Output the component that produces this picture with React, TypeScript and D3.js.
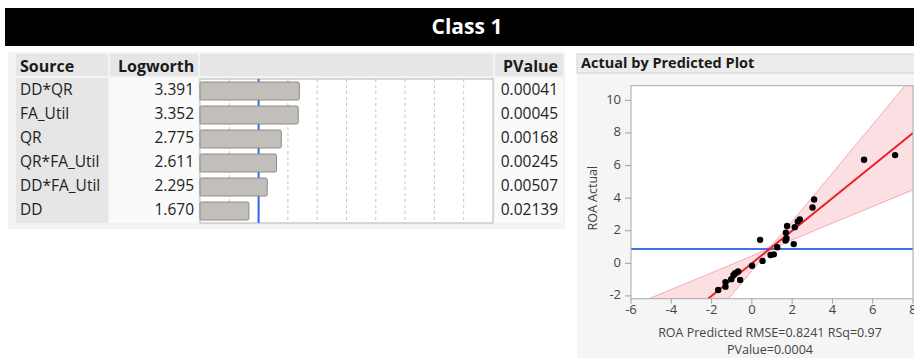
import React from "react";
import * as d3 from "d3";

// Effect summary table
const sources = ["DD*QR", "FA_Util", "QR", "QR*FA_Util", "DD*FA_Util", "DD"];
const logworths = [3.391, 3.352, 2.775, 2.611, 2.295, 1.67];
const pValues = ["0.00041", "0.00045", "0.00168", "0.00245", "0.00507", "0.02139"];
const logworthRef = 2; // -log10(0.01)
const logworthGrid = [1, 2, 3, 4, 5, 6, 7, 8, 9];

// Actual by predicted scatter
const predicted = [
  -1.67, -1.31, -1.31, -1.02, -0.91, -0.83, -0.68, -0.58, 0.01, 0.53, 0.41, 0.93, 1.09, 1.26, 1.67,
  1.72, 1.69, 1.75, 2.08, 2.13, 2.28, 2.38, 3.01, 3.09, 5.57, 7.11,
];
const actual = [
  -1.64, -1.43, -1.15, -0.97, -0.72, -0.6, -0.5, -1.02, -0.15, 0.15, 1.44, 0.51, 0.55, 0.99, 1.4,
  1.52, 1.88, 2.29, 1.18, 2.22, 2.56, 2.7, 3.43, 3.92, 6.36, 6.64,
];
const xTicks = [-6, -4, -2, 0, 2, 4, 6, 8];
const yTicks = [-2, 0, 2, 4, 6, 8, 10];
const meanActual = 0.88;
const rmse = "0.8241";
const rsq = "0.97";
const modelP = "0.0004";
// confidence curves around the fit line: half-width = sqrt(h0^2 + (k * (x - mean))^2)
const bandHalfAtMean = 0.15;
const bandSpread = 0.49;

const FONT = "'Open Sans', 'Noto Sans', sans-serif";

export default function App() {
  // table geometry
  const tX = { src: 16, srcW: 92, lw: 110, lwW: 88, bar: 200, barW: 293, pv: 495, pvW: 68 };
  const headY = 54;
  const headH = 22;
  const rowTop = 79;
  const rowH = 24;
  const barScale = d3.scaleLinear().domain([0, 10]).range([tX.bar, tX.bar + tX.barW]);
  const rowsBottom = rowTop + rowH * sources.length;

  // plot geometry
  const pL = 631;
  const pR = 913;
  const pT = 85.7;
  const pB = 298.7;
  const x = d3.scaleLinear().domain([-6, 8]).range([pL, pR]);
  const y = d3.scaleLinear().domain([-2.17, 10.9]).range([pB, pT]);

  const bandXs = d3.range(-6, 8.001, 0.05);
  const half = (v: number) => Math.sqrt(bandHalfAtMean ** 2 + (bandSpread * (v - meanActual)) ** 2);
  const bandArea = d3
    .area<number>()
    .x((v) => x(v))
    .y0((v) => y(v - half(v)))
    .y1((v) => y(v + half(v)));
  const upper = d3.line<number>().x((v) => x(v)).y((v) => y(v + half(v)));
  const lower = d3.line<number>().x((v) => x(v)).y((v) => y(v - half(v)));
  const fitLine = d3.line<number>().x((v) => x(v)).y((v) => y(v));

  return (
    <svg
      width={914}
      height={358}
      style={{ position: "absolute", left: 0, top: 0, background: "#ffffff" }}
      fontFamily={FONT}
    >
      <defs>
        <clipPath id="plotClip">
          <rect x={pL} y={pT} width={pR - pL} height={pB - pT} />
        </clipPath>
      </defs>

      {/* title bar */}
      <rect x={5} y={8} width={909} height={38} fill="#000" />
      <text x={467} y={28} fill="#fff" fontSize={21} fontWeight={700} textAnchor="middle" dominantBaseline="middle">
        Class 1
      </text>

      {/* effect table */}
      <rect x={8} y={52} width={557} height={177} fill="#f3f3f3" />
      <rect x={tX.src} y={headY} width={tX.srcW} height={headH} fill="#e6e6e6" />
      <rect x={tX.lw} y={headY} width={tX.lwW} height={headH} fill="#e6e6e6" />
      <rect x={tX.bar} y={headY} width={tX.barW} height={headH} fill="#e6e6e6" />
      <rect x={tX.pv} y={headY} width={tX.pvW} height={headH} fill="#e6e6e6" />
      <text x={20} y={72} fontSize={16} fontWeight={700} fill="#1a1a1a">Source</text>
      <text x={118} y={72} fontSize={16} fontWeight={700} fill="#1a1a1a">Logworth</text>
      <text x={558} y={72} fontSize={16} fontWeight={700} fill="#1a1a1a" textAnchor="end">PValue</text>

      <rect x={tX.src} y={rowTop - 1} width={tX.srcW} height={rowsBottom - rowTop + 1} fill="#e6e6e6" />
      <rect x={tX.lw} y={rowTop - 1} width={tX.lwW} height={rowsBottom - rowTop + 1} fill="#fafafa" />
      <rect x={tX.pv} y={rowTop - 1} width={tX.pvW} height={rowsBottom - rowTop + 1} fill="#fafafa" />
      <rect x={tX.bar} y={rowTop} width={tX.barW} height={rowsBottom - rowTop} fill="#ffffff" stroke="#b4b4b4" />
      {logworthGrid.map((g) => (
        <line
          key={g}
          x1={barScale(g)}
          x2={barScale(g)}
          y1={rowTop}
          y2={rowsBottom}
          stroke="#c4c4c4"
          strokeDasharray="3,3"
        />
      ))}
      <line
        x1={barScale(logworthRef)}
        x2={barScale(logworthRef)}
        y1={rowTop}
        y2={rowsBottom}
        stroke="#2f66e8"
        strokeWidth={2}
      />
      {sources.map((s, i) => {
        const top = rowTop + i * rowH;
        const cy = top + rowH / 2;
        return (
          <g key={s}>
            <text x={20} y={cy} fontSize={15.5} fill="#222" dominantBaseline="middle">{s}</text>
            <text x={194} y={cy} fontSize={15.5} fill="#222" textAnchor="end" dominantBaseline="middle">
              {logworths[i].toFixed(3)}
            </text>
            <rect
              x={barScale(0)}
              y={top + 3}
              width={barScale(logworths[i]) - barScale(0)}
              height={18}
              rx={1.5}
              fill="#c2bfba"
              stroke="#8e8c88"
              strokeWidth={1}
            />
            <text x={558} y={cy} fontSize={15.5} fill="#222" textAnchor="end" dominantBaseline="middle">
              {pValues[i]}
            </text>
          </g>
        );
      })}

      {/* actual by predicted panel */}
      <rect x={577} y={73} width={337} height={285} fill="#f5f5f5" />
      <rect x={577} y={54} width={340} height={19} fill="#ececec" stroke="#d2d2d2" />
      <text x={581} y={68} fontSize={14.5} fontWeight={700} fill="#1a1a1a">Actual by Predicted Plot</text>

      <rect x={pL} y={pT} width={pR - pL} height={pB - pT} fill="#ffffff" />
      <g clipPath="url(#plotClip)">
        <path d={bandArea(bandXs) ?? ""} fill="#f59aa6" fillOpacity={0.32} />
        <path d={upper(bandXs) ?? ""} fill="none" stroke="#f2a3ad" strokeWidth={1} />
        <path d={lower(bandXs) ?? ""} fill="none" stroke="#f2a3ad" strokeWidth={1} />
        <line x1={pL} x2={pR} y1={y(meanActual)} y2={y(meanActual)} stroke="#3b73e6" strokeWidth={2} />
        <path d={fitLine([-6, 8]) ?? ""} fill="none" stroke="#e3242f" strokeWidth={2} />
        {predicted.map((p, i) => (
          <circle key={i} cx={x(p)} cy={y(actual[i])} r={3.2} fill="#000" />
        ))}
      </g>
      <rect x={pL} y={pT} width={pR - pL} height={pB - pT} fill="none" stroke="#a8a8a8" />

      {yTicks.map((t) => (
        <g key={t}>
          <line x1={pL - 6} x2={pL} y1={y(t)} y2={y(t)} stroke="#a0a0a0" />
          <text x={pL - 10} y={y(t)} fontSize={13} fill="#444" textAnchor="end" dominantBaseline="middle">
            {t}
          </text>
        </g>
      ))}
      {xTicks.map((t) => (
        <g key={t}>
          <line x1={x(t)} x2={x(t)} y1={pB} y2={pB + 5} stroke="#a0a0a0" />
          <text x={x(t)} y={314} fontSize={13} fill="#444" textAnchor="middle">
            {t}
          </text>
        </g>
      ))}
      <text
        transform={`translate(597,${(pT + pB) / 2 + 6}) rotate(-90)`}
        fontSize={12.5}
        fill="#444"
        textAnchor="middle"
      >
        ROA Actual
      </text>
      <text x={770} y={337} fontSize={12.5} fill="#444" textAnchor="middle">
        {`ROA Predicted RMSE=${rmse} RSq=${rsq}`}
      </text>
      <text x={770} y={354} fontSize={12.5} fill="#444" textAnchor="middle">
        {`PValue=${modelP}`}
      </text>
    </svg>
  );
}
